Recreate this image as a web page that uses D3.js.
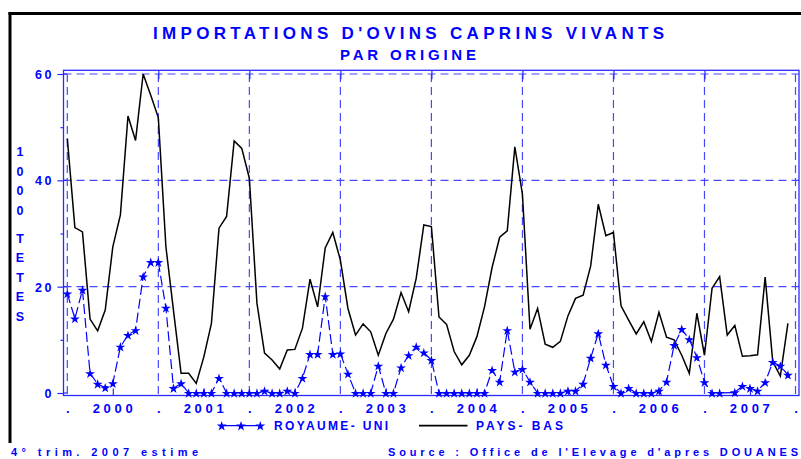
<!DOCTYPE html>
<html>
<head>
<meta charset="utf-8">
<script src="https://cdn.jsdelivr.net/npm/d3@7/dist/d3.min.js"></script>
<style>
  html, body { margin: 0; padding: 0; background: #ffffff; }
  svg { display: block; }
  text { font-family: "Liberation Sans", Arial, sans-serif; font-weight: bold; }
</style>
</head>
<body>
<svg id="chart" width="801" height="459"></svg>
<script>
// ---------------- DATA ----------------
const years = ["2000", "2001", "2002", "2003", "2004", "2005", "2006", "2007"];
const yTicks = [0, 20, 40, 60];
const yMinorTicks = [10, 30, 50];

// Monthly values (1000 têtes), Jan 2000 .. Dec 2007
const paysBas = [
  47.9, 31.1, 30.3, 13.9, 11.7, 15.6, 27.5, 33.5, 52.1, 47.5, 60.0, 56.0,
  51.8, 27.5, 15.5, 3.7, 3.7, 1.8, 6.8, 13.1, 31.0, 33.2, 47.4, 46.0,
  40.4, 16.9, 7.5, 6.2, 4.5, 8.1, 8.2, 12.2, 21.4, 16.2, 27.3, 30.2,
  25.0, 15.9, 10.9, 13.0, 11.5, 7.1, 11.2, 13.9, 18.9, 15.3, 21.6, 31.6,
  31.3, 14.3, 12.9, 7.8, 5.3, 7.1, 10.6, 16.2, 23.6, 29.3, 30.5, 46.3,
  37.4, 12.0, 15.9, 9.2, 8.6, 9.7, 14.5, 17.8, 18.4, 23.9, 35.5, 29.6,
  30.2, 16.4, 13.7, 11.1, 13.4, 9.7, 15.2, 10.5, 10.0, 7.1, 3.7, 15.0,
  7.1, 19.7, 21.9, 10.9, 12.7, 6.9, 7.0, 7.2, 21.8, 5.9, 3.2, 13.1
];
const royaumeUni = [
  18.7, 14.0, 19.4, 3.7, 1.7, 1.0, 1.8, 8.7, 10.9, 11.8, 21.9, 24.6,
  24.6, 16.0, 0.9, 1.8, 0, 0, 0, 0, 2.8, 0, 0, 0,
  0, 0, 0.4, 0, 0, 0.4, 0, 2.8, 7.3, 7.3, 18.2, 7.3,
  7.4, 3.6, 0, 0, 0, 5.1, 0, 0, 4.8, 7.1, 8.7, 7.6,
  6.2, 0, 0, 0, 0, 0, 0, 0, 4.3, 2.1, 11.8, 4.0,
  4.5, 2.1, 0, 0, 0, 0, 0.4, 0.4, 1.7, 6.6, 11.2, 5.3,
  1.3, 0, 0.9, 0, 0, 0, 0.4, 2.1, 9.0, 12.0, 10.1, 6.7,
  2.0, 0, 0, null, 0.1, 1.3, 0.9, 0.4, 2.0, 5.8, 5.1, 3.4
];

// ---------------- LAYOUT ----------------
const BLUE = "#0000ff";
const GRID = "#4848ff";
const AXIS = "#2a2aff";
const svg = d3.select("#chart");

const x = d3.scaleLinear().domain([0, 96]).range([67.3, 795.5]);
const y = d3.scaleLinear().domain([0, 60]).range([393, 74]);
const box = { left: 63.5, right: 799, top: 70.3, bottom: 395.5 };

// outer frame (top + left)
svg.append("line").attr("x1", 8.5).attr("x2", 801).attr("y1", 13.5).attr("y2", 13.5)
  .attr("stroke", "#000").attr("stroke-width", 3);
svg.append("line").attr("x1", 10).attr("x2", 10).attr("y1", 12).attr("y2", 443)
  .attr("stroke", "#000").attr("stroke-width", 3);

// titles
svg.append("text").attr("x", 153).attr("y", 39).attr("font-size", 17)
  .attr("fill", BLUE).attr("textLength", 511).attr("lengthAdjust", "spacing")
  .text("IMPORTATIONS D'OVINS CAPRINS VIVANTS");
svg.append("text").attr("x", 340).attr("y", 60).attr("font-size", 15)
  .attr("fill", BLUE).attr("textLength", 136).attr("lengthAdjust", "spacing")
  .text("PAR ORIGINE");

// Y title: vertically stacked characters
const yTitle = "1000 TETES";
let yy = 151.7;
const yTitleG = svg.append("g");
yTitle.split("").forEach((ch, i) => {
  if (i > 0) yy += (ch === " " ? 8.5 : 19.5);
  if (ch === " ") return;
  yTitleG.append("text").attr("x", 20).attr("y", yy + 4.5).attr("font-size", 12.5)
    .attr("text-anchor", "middle").attr("fill", BLUE).text(ch);
});

// gridlines
const yearBounds = d3.range(0, 97, 12);
svg.append("g").selectAll("line").data(yTicks.filter(d => d > 0)).join("line")
  .attr("x1", box.left).attr("x2", box.right)
  .attr("y1", d => y(d)).attr("y2", d => y(d))
  .attr("stroke", GRID).attr("stroke-width", 1.2).attr("stroke-dasharray", "8,5");
svg.append("g").selectAll("line").data(yearBounds).join("line")
  .attr("x1", d => x(d)).attr("x2", d => x(d))
  .attr("y1", y(60)).attr("y2", box.bottom)
  .attr("stroke", GRID).attr("stroke-width", 1.2).attr("stroke-dasharray", "8,5");

// axis box
svg.append("rect").attr("x", box.left).attr("y", box.top)
  .attr("width", box.right - box.left).attr("height", box.bottom - box.top)
  .attr("fill", "none").attr("stroke", AXIS).attr("stroke-width", 1.3);

// left axis
const gL = svg.append("g").attr("transform", `translate(${box.left},0)`)
  .call(d3.axisLeft(y).tickValues(yTicks).tickSize(6).tickSizeOuter(0).tickPadding(3.5));
gL.select(".domain").remove();
gL.selectAll("line").attr("stroke", AXIS).attr("stroke-width", 1.2);
gL.selectAll("text").attr("fill", BLUE).attr("font-size", 12.5)
  .attr("font-family", "Liberation Sans, Arial, sans-serif").attr("font-weight", "bold")
  .style("letter-spacing", "2.5px").attr("dy", "0.36em");
const gLm = svg.append("g").attr("transform", `translate(${box.left},0)`)
  .call(d3.axisLeft(y).tickValues(yMinorTicks).tickSize(3).tickSizeOuter(0).tickFormat(""));
gLm.select(".domain").remove();
gLm.selectAll("line").attr("stroke", AXIS).attr("stroke-width", 1.2);
// inner part of major ticks
svg.append("g").selectAll("line").data(yTicks).join("line")
  .attr("x1", box.left).attr("x2", box.left + 3.5)
  .attr("y1", d => y(d)).attr("y2", d => y(d))
  .attr("stroke", AXIS).attr("stroke-width", 1.2);

// top axis: ticks at year boundaries
const gT = svg.append("g").attr("transform", `translate(0,${box.top})`)
  .call(d3.axisTop(x).tickValues(yearBounds.slice(1, -1)).tickSize(-9).tickSizeOuter(0).tickFormat(""));
gT.select(".domain").remove();
gT.selectAll("line").attr("stroke", AXIS).attr("stroke-width", 1.2);

// bottom axis: mid-year ticks with year labels, "." at boundaries
const midYears = years.map((d, i) => i * 12 + 6);
const gB = svg.append("g").attr("transform", `translate(0,${box.bottom})`)
  .call(d3.axisBottom(x).tickValues(midYears).tickSize(-7).tickSizeOuter(0).tickPadding(8.3)
    .tickFormat((d, i) => years[i]));
gB.select(".domain").remove();
gB.selectAll("line").attr("stroke", AXIS).attr("stroke-width", 1.2);
gB.selectAll("text").attr("fill", BLUE).attr("font-size", 13)
  .attr("font-family", "Liberation Sans, Arial, sans-serif").attr("font-weight", "bold")
  .style("letter-spacing", "3.7px").attr("dx", "1.2");
const gB2 = svg.append("g").attr("transform", `translate(0,${box.bottom})`)
  .call(d3.axisBottom(x).tickValues(yearBounds).tickSize(0).tickSizeOuter(0).tickPadding(8.3)
    .tickFormat(() => "."));
gB2.select(".domain").remove();
gB2.selectAll("text").attr("fill", BLUE).attr("font-size", 13)
  .attr("font-family", "Liberation Sans, Arial, sans-serif").attr("font-weight", "bold");

// ---------------- SERIES ----------------
const pb = paysBas.map((v, i) => ({ i, v }));
const ru = royaumeUni.map((v, i) => ({ i, v })).filter(d => d.v !== null);

const line = d3.line().x(d => x(d.i)).y(d => y(d.v));

svg.append("path").datum(pb).attr("d", line)
  .attr("fill", "none").attr("stroke", "#000").attr("stroke-width", 1.5)
  .attr("stroke-linejoin", "miter");

svg.append("path").datum(ru).attr("d", line)
  .attr("fill", "none").attr("stroke", BLUE).attr("stroke-width", 1.2)
  .attr("stroke-dasharray", "10,4");

const star = d3.symbol().type(d3.symbolStar).size(30);
svg.append("g").selectAll("path").data(ru).join("path")
  .attr("d", star)
  .attr("transform", d => `translate(${x(d.i)},${y(d.v) + 0.5})`)
  .attr("fill", BLUE);

// ---------------- LEGEND ----------------
const legY = 425.7;
const legStars = [221.7, 241, 260.3];
svg.append("line").attr("x1", legStars[0]).attr("x2", legStars[2])
  .attr("y1", legY).attr("y2", legY).attr("stroke", BLUE).attr("stroke-width", 1.2);
svg.append("g").selectAll("path").data(legStars).join("path")
  .attr("d", star).attr("transform", d => `translate(${d},${legY + 0.5})`).attr("fill", BLUE);
svg.append("text").attr("x", 274).attr("y", 430.3).attr("font-size", 12)
  .attr("fill", BLUE).attr("textLength", 114).attr("lengthAdjust", "spacing")
  .text("ROYAUME- UNI");
svg.append("line").attr("x1", 419).attr("x2", 467.5)
  .attr("y1", legY).attr("y2", legY).attr("stroke", "#000").attr("stroke-width", 1.8);
svg.append("text").attr("x", 476).attr("y", 430.3).attr("font-size", 12)
  .attr("fill", BLUE).attr("textLength", 87).attr("lengthAdjust", "spacing")
  .text("PAYS- BAS");

// ---------------- FOOTER ----------------
svg.append("text").attr("x", 11).attr("y", 456).attr("font-size", 11)
  .attr("fill", BLUE).attr("textLength", 187).attr("lengthAdjust", "spacing")
  .text("4° trim. 2007 estime");
svg.append("text").attr("x", 388).attr("y", 456).attr("font-size", 11)
  .attr("fill", BLUE).attr("textLength", 410).attr("lengthAdjust", "spacing")
  .text("Source : Office de l'Elevage d'apres DOUANES");
</script>
</body>
</html>
